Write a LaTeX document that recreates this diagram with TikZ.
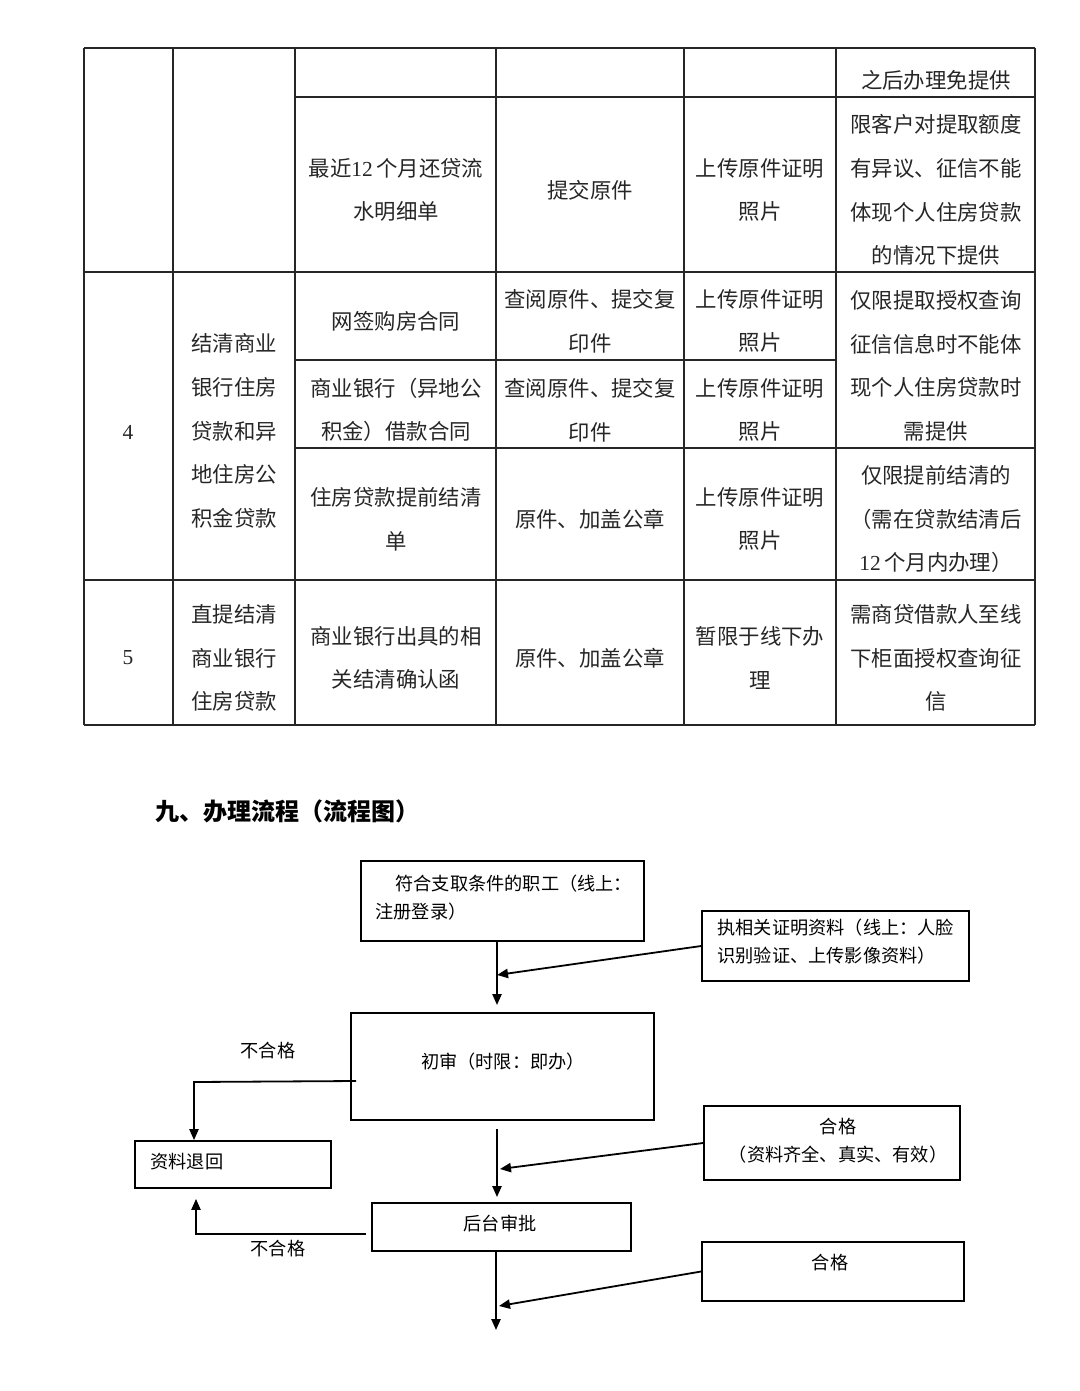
\documentclass[tikz,border=0pt]{standalone}
\usepackage{fontspec}
\setmainfont{Liberation Serif}
\newfontfamily\zhfont{Noto Sans CJK SC}
\usetikzlibrary{arrows.meta,fit}
\newcommand\lat[1]{{\rmfamily #1}}
\begin{document}
\begin{tikzpicture}[x=0.5pt,y=-0.5pt,
  grid/.style={line width=0.8pt,draw=black!85},
  cell/.style={inner sep=0pt,align=center,text=black!85,font=\zhfont\fontsize{10.7}{21.8}\selectfont},
  head/.style={inner sep=0pt,anchor=west,font=\zhfont\bfseries\fontsize{12}{14}\selectfont},
  fbox/.style={draw,line width=0.9pt,inner sep=0pt},
  ftxt/.style={inner sep=0pt,font=\zhfont\fontsize{9.1}{14}\selectfont},
  conn/.style={line width=0.9pt},
  arr/.style={line width=0.9pt,-{Triangle[length=5.5pt,width=4.6pt]}}]
\useasboundingbox (0,0) rectangle (1080,1391);
% ---------------- table grid ----------------
\draw[grid] (84,48) -- (1035,48);
\draw[grid] (295,97) -- (1035,97);
\draw[grid] (84,272) -- (1035,272);
\draw[grid] (295,360) -- (836,360);
\draw[grid] (295,448) -- (1035,448);
\draw[grid] (84,580) -- (1035,580);
\draw[grid] (84,725) -- (1035,725);
\foreach \x in {84,173,295,496,684,836,1035} \draw[grid] (\x,48) -- (\x,725);
% ---------------- table text ----------------
\node[cell] (tA6) at (936,80) {之后办理免提供};
\node[cell] (tB3) at (396,190) {最近\lat{12}\,个月还贷流\\水明细单};
\node[cell] (tB4) at (590,190) {提交原件};
\node[cell] (tB5) at (760,190) {上传原件证明\\照片};
\node[cell] (tB6) at (936,190) {限客户对提取额度\\有异议、征信不能\\体现个人住房贷款\\的情况下提供};
\node[cell] (t41) at (128,432) {\lat{4}};
\node[cell] (t42) at (234,431) {结清商业\\银行住房\\贷款和异\\地住房公\\积金贷款};
\node[cell] (t4a3) at (396,321) {网签购房合同};
\node[cell] (t4a4) at (590,321) {查阅原件、提交复\\印件};
\node[cell] (t4a5) at (760,321) {上传原件证明\\照片};
\node[cell] (t4b3) at (396,410) {商业银行（异地公\\积金）借款合同};
\node[cell] (t4b4) at (590,410) {查阅原件、提交复\\印件};
\node[cell] (t4b5) at (760,410) {上传原件证明\\照片};
\node[cell] (t4a6) at (936,366) {仅限提取授权查询\\征信信息时不能体\\现个人住房贷款时\\需提供};
\node[cell] (t4c3) at (396,519) {住房贷款提前结清\\单};
\node[cell] (t4c4) at (590,519) {原件、加盖公章};
\node[cell] (t4c5) at (760,519) {上传原件证明\\照片};
\node[cell] (t4c6) at (936,519) {仅限提前结清的\\（需在贷款结清后\\\lat{12}\,个月内办理）};
\node[cell] (t51) at (128,658) {\lat{5}};
\node[cell] (t52) at (234,658) {直提结清\\商业银行\\住房贷款};
\node[cell] (t53) at (396,658) {商业银行出具的相\\关结清确认函};
\node[cell] (t54) at (590,658) {原件、加盖公章};
\node[cell] (t55) at (760,658) {暂限于线下办\\理};
\node[cell] (t56) at (936,658) {需商贷借款人至线\\下柜面授权查询征\\信};
% ---------------- heading ----------------
\node[head] (hd) at (155,811) {九、办理流程（流程图）};
% ---------------- flowchart ----------------
\node[fbox,fit={(361,861) (644,941)}] (b1) {};
\node[ftxt,anchor=west,align=left] (b1t) at (375,898) {\hspace{10pt}符合支取条件的职工（线上：\\注册登录）};
\node[fbox,fit={(702,911) (969,981)}] (b2) {};
\node[ftxt,anchor=west,align=left] (b2t) at (717,942) {执相关证明资料（线上：人脸\\识别验证、上传影像资料）};
\node[fbox,fit={(351,1013) (654,1120)}] (b3) {};
\node[ftxt] (b3t) at (503,1062) {初审（时限：即办）};
\node[fbox,fit={(135,1141) (331,1188)}] (b4) {};
\node[ftxt,anchor=west] (b4t) at (150,1162) {资料退回};
\node[fbox,fit={(704,1106) (960,1180)}] (b6) {};
\node[ftxt,align=center] (b6t) at (838,1141) {合格\\（资料齐全、真实、有效）};
\node[fbox,fit={(372,1203) (631,1251)}] (b5) {};
\node[ftxt] (b5t) at (500,1224) {后台审批};
\node[fbox,fit={(702,1242) (964,1301)}] (b7) {};
\node[ftxt] (b7t) at (830,1263) {合格};
\node[ftxt] (l1) at (268,1051) {不合格};
\node[ftxt] (l2) at (278,1249) {不合格};
% coordinates
\coordinate (a1) at (497,1005);
\coordinate (m1) at (497,975);
\coordinate (r1) at (356,1081);
\coordinate (k1) at (194,1082);
\coordinate (a2) at (497,1197);
\coordinate (m2) at (500,1169);
\coordinate (r2) at (366,1234);
\coordinate (k2) at (196,1234);
\coordinate (a3) at (496,1330);
\coordinate (m3) at (499,1306);
% connectors
\draw[arr] (b1.south -| a1) -- (a1);
\draw[arr] (b2.west) -- (m1);
\draw[arr] (r1) -- (k1) -- (k1 |- b4.north);
\draw[arr] ([yshift=-4pt]b3.south -| a2) -- (a2);
\draw[arr] (b6.west) -- (m2);
\draw[arr] (r2) -- (k2) -- ([yshift=-5pt]k2 |- b4.south);
\draw[arr] (b5.south -| a3) -- (a3);
\draw[arr] (b7.west) -- (m3);
\end{tikzpicture}
\end{document}
